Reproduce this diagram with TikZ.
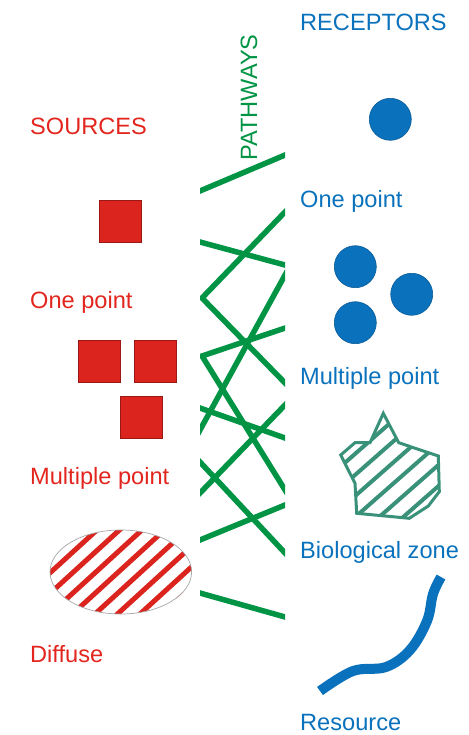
\documentclass[tikz,border=0pt]{standalone}
\usepackage{fontspec}
\setmainfont{Liberation Sans}
\definecolor{srcred}{RGB}{220,36,30}
\definecolor{txtred}{RGB}{226,38,30}
\definecolor{rcpblue}{RGB}{10,114,188}
\definecolor{pathgreen}{RGB}{0,148,68}
\definecolor{zoneteal}{RGB}{58,145,122}
\begin{document}
\begin{tikzpicture}[x=1pt,y=-1pt,
  lbl/.style={anchor=base west, inner sep=0pt, font=\fontsize{23.6}{28}\selectfont},
  srclbl/.style={lbl, text=txtred},
  rcplbl/.style={lbl, text=rcpblue},
  srcbox/.style={fill=srcred, draw=srcred!70!black, line width=0.6pt},
  rcpdot/.style={fill=rcpblue, draw=rcpblue!80!black, line width=0.6pt},
  pathline/.style={pathgreen, line width=5.5pt, line join=miter},
  zoneline/.style={zoneteal, line width=3pt, line join=miter},
  hatchred/.style={srcred, line width=5pt},
  hatchteal/.style={zoneteal, line width=4pt},
  flow/.style={rcpblue, line width=10pt, line cap=butt}]
\useasboundingbox (0,0) rectangle (468,735);

% column headings
\node[rcplbl] (rcphead) at (300,31) {RECEPTORS};
\node[srclbl] (srchead) at (30,135) {SOURCES};
\node[lbl, text=pathgreen, rotate=90] (pathhead) at (257,161) {PATHWAYS};

% source labels
\node[srclbl] (srcone)   at (30,308.5) {One point};
\node[srclbl] (srcmulti) at (30,484.5) {Multiple point};
\node[srclbl] (srcdiff)  at (30,662.5) {Diffuse};

% receptor labels
\node[rcplbl] (rcpone)   at (300,207.5) {One point};
\node[rcplbl] (rcpmulti) at (300,384) {Multiple point};
\node[rcplbl] (rcpzone)  at (300,558.5) {Biological zone};
\node[rcplbl] (rcpres)   at (300,730.5) {Resource};

% point sources
\draw[srcbox] (99.3,200) rectangle (141.7,242.3);
\draw[srcbox] (78.3,340.7) rectangle (120.7,382.7);
\draw[srcbox] (134.3,340.7) rectangle (176.7,382.7);
\draw[srcbox] (120.7,396.7) rectangle (162.7,438.7);

% diffuse source: hatched ellipse
\begin{scope}
  \clip (120.8,572) ellipse [x radius=70.8, y radius=42];
  \foreach \k in {-4,...,8} {
    \pgfmathsetmacro\c{700+22.5*\k}
    \draw[hatchred] (\c-569.6,520) -- (\c-684.6,625);
  }
\end{scope}
\draw[gray!70, line width=0.7pt] (120.8,572) ellipse [x radius=70.8, y radius=42];

% pathways, cut square at both sides of the band
\begin{scope}
  \clip (200,100) rectangle (285,640);
  \draw[pathline] (190,195.2) -- (295,150.8);
  \draw[pathline] (190,239.3) -- (295,267.7);
  \draw[pathline] (295,201.6) -- (202,298) -- (295,393.2);
  \draw[pathline] (295,256.8) -- (195,439.1);
  \draw[pathline] (295,324.7) -- (202,356) -- (295,506.1);
  \draw[pathline] (190,404.5) -- (295,441.5);
  \draw[pathline] (295,394.6) -- (190,503.4);
  \draw[pathline] (190,451.3) -- (295,563.7);
  \draw[pathline] (190,544.1) -- (295,500.9);
  \draw[pathline] (190,590.2) -- (295,619.8);
\end{scope}

% point receptors
\draw[rcpdot] (390.3,119.3) circle [radius=21];
\draw[rcpdot] (355.3,266.7) circle [radius=21];
\draw[rcpdot] (411.7,294.3) circle [radius=21];
\draw[rcpdot] (355.3,322.7) circle [radius=21];

% biological zone: hatched outline
\def\zone{(383.3,413.3) -- (398.7,442.7) -- (438.3,456) -- (439.3,491.7)
  -- (428.3,506) -- (409.3,518.3) -- (356.7,513.3) -- (355,483.3)
  -- (340.7,455) -- (355,442.7) -- (370,442.7) -- cycle}
\begin{scope}
  \clip \zone;
  \foreach \k in {0,...,5} {
    \pgfmathsetmacro\c{872+24*\k}
    \draw[hatchteal] (\c-461.3,405) -- (\c-597.9,525);
  }
\end{scope}
\draw[zoneline] \zone;

% resource: a stream
\draw[flow] plot[smooth, tension=0.6] coordinates {
  (320,691) (353,671) (386,667) (410,650) (427,621) (433,594) (441,577)};
\end{tikzpicture}
\end{document}
